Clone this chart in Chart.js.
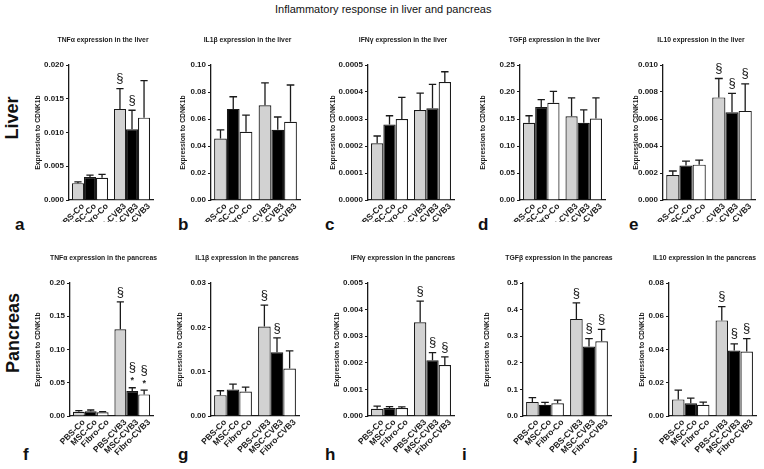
<!DOCTYPE html>
<html>
<head>
<meta charset="utf-8">
<script src="https://cdn.jsdelivr.net/npm/chart.js@4.4.1/dist/chart.umd.min.js"></script>
<style>
  html, body { margin: 0; padding: 0; background: #fff; }
  body { position: relative; width: 764px; height: 469px; overflow: hidden;
         font-family: "Liberation Sans", Arial, Helvetica, sans-serif; color: #111; }
  canvas { position: absolute; }
  .txt { position: absolute; white-space: nowrap; }
  .main { left: 275px; top: 3px; font-size: 11px; line-height: 12px; }
  .organ { font-weight: bold; font-size: 18px; line-height: 18px; transform: translate(-50%, -50%) rotate(-90deg); }
  .letter { font-weight: bold; font-size: 17px; line-height: 17px; }
</style>
</head>
<body>
<div class="txt main">Inflammatory response in liver and pancreas</div>
<div class="txt organ" style="left:12px; top:118px;">Liver</div>
<div class="txt organ" style="left:13px; top:333px;">Pancreas</div>
<div id="letters"></div>

<script>
// groups on the x axis
const treatments = ["PBS", "MSC", "Fibro"];
const conditions = ["Co", "CVB3"];

// values in order PBS-Co, MSC-Co, Fibro-Co, PBS-CVB3, MSC-CVB3, Fibro-CVB3
const tnfLiver = [0.0025, 0.0034, 0.0033, 0.0135, 0.0105, 0.0122];
const tnfLiverSem = [0.0002, 0.0003, 0.0005, 0.0030, 0.0028, 0.0055];
const il1bLiver = [0.0455, 0.0675, 0.0505, 0.0702, 0.0520, 0.0580];
const il1bLiverSem = [0.0065, 0.0090, 0.0123, 0.0165, 0.0095, 0.0272];
const ifngLiver = [0.00021, 0.00028, 0.00030, 0.000333, 0.00034, 0.000437];
const ifngLiverSem = [0.000027, 0.000032, 0.00008, 0.000063, 0.000088, 0.000038];
const tgfbLiver = [0.143, 0.172, 0.180, 0.155, 0.143, 0.151];
const tgfbLiverSem = [0.013, 0.014, 0.021, 0.034, 0.024, 0.038];
const il10Liver = [0.00185, 0.00255, 0.00262, 0.0076, 0.0065, 0.0066];
const il10LiverSem = [0.0003, 0.00033, 0.00033, 0.0014, 0.0014, 0.0020];

const tnfPancreas = [0.0065, 0.0070, 0.0055, 0.1305, 0.0375, 0.0325];
const tnfPancreasSem = [0.0015, 0.0020, 0.0010, 0.0410, 0.0050, 0.0065];
const il1bPancreas = [0.0047, 0.0060, 0.0055, 0.0202, 0.0144, 0.0107];
const il1bPancreasSem = [0.0010, 0.0012, 0.0010, 0.0048, 0.0032, 0.0040];
const ifngPancreas = [0.00027, 0.00030, 0.00030, 0.00352, 0.00210, 0.00192];
const ifngPancreasSem = [0.00010, 0.00005, 0.00004, 0.00080, 0.00028, 0.00030];
const tgfbPancreas = [0.053, 0.042, 0.048, 0.365, 0.261, 0.281];
const tgfbPancreasSem = [0.016, 0.009, 0.012, 0.060, 0.030, 0.045];
const il10Pancreas = [0.0100, 0.0076, 0.0068, 0.0575, 0.0394, 0.0388];
const il10PancreasSem = [0.0056, 0.0032, 0.0015, 0.0083, 0.0040, 0.0077];

// significance marks above the bars
const noMarks = ["", "", "", "", "", ""];
const marksTwo = ["", "", "", "§", "§", ""];
const marksAll = ["", "", "", "§", "§", "§"];
const marksStar = ["", "", "", "§", "§*", "§*"];

// y axis: max, step, decimals of the tick labels
const yMax = [0.020, 0.10, 0.0005, 0.25, 0.010, 0.20, 0.03, 0.005, 0.5, 0.08];
const yStep = [0.005, 0.02, 0.0001, 0.05, 0.002, 0.05, 0.01, 0.001, 0.1, 0.02];
const yDecimals = [3, 2, 4, 2, 3, 2, 2, 3, 1, 2];

const panelTitles = [
  "TNFα expression in the liver", "IL1β expression in the liver", "IFNγ expression in the liver",
  "TGFβ expression in the liver", "IL10 expression in the liver",
  "TNFα expression in the pancreas", "IL1β expression in the pancreas", "IFNγ expression in the pancreas",
  "TGFβ expression in the pancreas", "IL10 expression in the pancreas"
];
const panelValues = [tnfLiver, il1bLiver, ifngLiver, tgfbLiver, il10Liver,
  tnfPancreas, il1bPancreas, ifngPancreas, tgfbPancreas, il10Pancreas];
const panelSem = [tnfLiverSem, il1bLiverSem, ifngLiverSem, tgfbLiverSem, il10LiverSem,
  tnfPancreasSem, il1bPancreasSem, ifngPancreasSem, tgfbPancreasSem, il10PancreasSem];
const panelMarks = [marksTwo, noMarks, noMarks, noMarks, marksAll,
  marksStar, marksTwo, marksAll, marksAll, marksAll];
const panelLetters = ["a", "b", "c", "d", "e", "f", "g", "h", "i", "j"];

// page layout (px)
const axisX = [69, 211, 368, 520, 663, 70, 211, 368, 523, 669];
const plotEnd = [150, 297, 451, 602, 752, 150, 296, 451, 608, 753];
const yTitleX = [38, 183, 333, 483, 636, 38, 180, 337, 487, 642];
const letterX = [15, 178, 325, 478, 629, 23, 178, 325, 462, 633];
const rows = [
  { top: 28, bottom: 222, plotTop: 65, plotBottom: 200, letterTop: 216 },
  { top: 250, bottom: 469, plotTop: 283, plotBottom: 416, letterTop: 446 }
];

const fills = ["#d2d2d2", "#000000", "#ffffff"];
const ink = "#1a1a1a";
const FONT = "'Liberation Sans', Arial, Helvetica, sans-serif";

// error bars, significance marks, rotated x labels and panel title
const panelDecor = {
  id: "panelDecor",
  afterDatasetsDraw(chart) {
    const ctx = chart.ctx;
    const y = chart.scales.y;
    ctx.save();
    chart.data.datasets.forEach((ds, i) => {
      chart.getDatasetMeta(i).data.forEach((bar, j) => {
        const top = y.getPixelForValue(ds.data[j] + ds.errors[j]);
        const half = bar.width * 0.3;
        ctx.strokeStyle = ink;
        ctx.lineWidth = 1.3;
        ctx.beginPath();
        ctx.moveTo(bar.x, bar.y);
        ctx.lineTo(bar.x, top);
        ctx.moveTo(bar.x - half, top);
        ctx.lineTo(bar.x + half, top);
        ctx.stroke();

        const mark = ds.marks[j];
        let my = top - 10;
        ctx.fillStyle = ink;
        ctx.textAlign = "center";
        ctx.textBaseline = "middle";
        for (let c = mark.length - 1; c >= 0; c--) {
          if (mark[c] === "*") {
            ctx.font = "bold 9px " + FONT;
            ctx.fillText("*", bar.x, my + 3);
            my -= 10;
          } else {
            ctx.font = "13px " + FONT;
            ctx.fillText("§", bar.x, my);
            my -= 13;
          }
        }
      });
    });
    ctx.restore();
  },
  afterDraw(chart, args, opts) {
    const ctx = chart.ctx;
    const area = chart.chartArea;
    ctx.save();
    ctx.fillStyle = ink;
    ctx.font = "bold 8.5px " + FONT;
    ctx.textAlign = "right";
    ctx.textBaseline = "middle";
    chart.data.datasets.forEach((ds, i) => {
      chart.getDatasetMeta(i).data.forEach((bar, j) => {
        ctx.save();
        ctx.translate(bar.x + 5, area.bottom + 5);
        ctx.rotate(-Math.PI / 4);
        ctx.fillText(ds.label + "-" + chart.data.labels[j], 0, 0);
        ctx.restore();
      });
    });
    ctx.font = "bold 6.8px " + FONT;
    ctx.textAlign = "center";
    ctx.fillText(opts.text, (area.left + area.right) / 2 - 8, area.top - 25);
    ctx.restore();
  }
};

const lettersBox = document.getElementById("letters");

panelTitles.forEach((title, p) => {
  const row = rows[p < 5 ? 0 : 1];
  const yW = axisX[p] - yTitleX[p] + 4;
  const padRight = 14;
  const left = axisX[p] - yW;
  const width = plotEnd[p] + 3 + padRight - left;
  const height = row.bottom - row.top;

  const canvas = document.createElement("canvas");
  canvas.width = width;
  canvas.height = height;
  canvas.style.left = left + "px";
  canvas.style.top = row.top + "px";
  document.body.appendChild(canvas);

  const values = panelValues[p];
  const sem = panelSem[p];
  const marks = panelMarks[p];

  new Chart(canvas.getContext("2d"), {
    type: "bar",
    data: {
      labels: conditions,
      datasets: treatments.map((t, k) => ({
        label: t,
        data: [values[k], values[k + 3]],
        errors: [sem[k], sem[k + 3]],
        marks: [marks[k], marks[k + 3]],
        backgroundColor: fills[k],
        borderColor: ink,
        borderWidth: 1.2,
        borderSkipped: "bottom",
        categoryPercentage: 0.86,
        barPercentage: 1
      }))
    },
    options: {
      responsive: false,
      animation: false,
      devicePixelRatio: 1,
      layout: { padding: { top: row.plotTop - row.top, right: padRight, left: 0, bottom: 0 } },
      plugins: {
        legend: { display: false },
        tooltip: { enabled: false },
        panelDecor: { text: title }
      },
      scales: {
        x: {
          grid: { display: false },
          border: { display: true, color: ink, width: 1.3 },
          ticks: { display: false },
          afterFit: (s) => { s.height = row.bottom - row.plotBottom; }
        },
        y: {
          min: 0,
          max: yMax[p],
          ticks: {
            stepSize: yStep[p],
            callback: (v) => v.toFixed(yDecimals[p]),
            font: { family: FONT, size: 8, weight: "bold" },
            color: ink,
            padding: 2
          },
          grid: { display: true, drawOnChartArea: false, drawTicks: true, tickLength: 3, color: ink, lineWidth: 1 },
          border: { display: true, color: ink, width: 1.3 },
          title: {
            display: true,
            text: "Expression to CDNK1b",
            font: { family: FONT, size: 6.8, weight: "bold" },
            color: ink,
            padding: { top: 0, bottom: 0 }
          },
          afterFit: (s) => { s.width = yW; }
        }
      }
    },
    plugins: [panelDecor]
  });

  const letter = document.createElement("div");
  letter.className = "txt letter";
  letter.style.left = letterX[p] + "px";
  letter.style.top = row.letterTop + "px";
  letter.textContent = panelLetters[p];
  lettersBox.appendChild(letter);
});
</script>
</body>
</html>
